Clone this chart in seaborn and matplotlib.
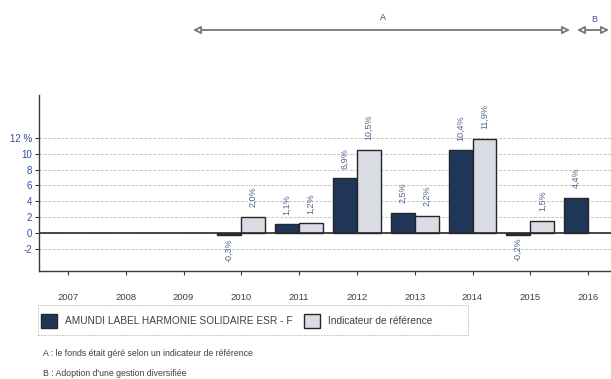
import matplotlib
matplotlib.use("Agg")
import matplotlib.pyplot as plt
import seaborn as sns
import pandas as pd
import numpy as np
from matplotlib.patches import Patch, FancyArrowPatch, Rectangle

years = ["2007", "2008", "2009", "2010", "2011", "2012", "2013", "2014", "2015", "2016"]
fund_name = "AMUNDI LABEL HARMONIE SOLIDAIRE ESR - F"
bench_name = "Indicateur de référence"
fund_years = ["2010", "2011", "2012", "2013", "2014", "2015", "2016"]
fund_values = [-0.3, 1.1, 6.9, 2.5, 10.4, -0.2, 4.4]
bench_years = ["2010", "2011", "2012", "2013", "2014", "2015"]
bench_values = [2.0, 1.2, 10.5, 2.2, 11.9, 1.5]
ytick_values = [-2, 0, 2, 4, 6, 8, 10, 12]
ytick_labels = ["-2", "0", "2", "4", "6", "8", "10", "12 %"]
note_a = "A : le fonds était géré selon un indicateur de référence"
note_b = "B : Adoption d'une gestion diversifiée"

df = pd.concat([
    pd.DataFrame({"year": fund_years, "value": fund_values, "serie": fund_name}),
    pd.DataFrame({"year": bench_years, "value": bench_values, "serie": bench_name}),
])

sns.set_theme(style="white")
plt.rcParams["font.family"] = ["Liberation Sans", "DejaVu Sans"]

fig = plt.figure(figsize=(6.11, 3.79), dpi=100)
ax = fig.add_axes([39 / 611, 108 / 379, (617 - 39) / 611, (271 - 95) / 379])

dark = "#1f3659"
light = "#d9dce3"
sns.barplot(data=df, x="year", y="value", hue="serie", order=years,
            hue_order=[fund_name, bench_name], palette=[dark, light],
            width=0.83, edgecolor="#262626", linewidth=1.0, ax=ax,
            legend=False, saturation=1)

ax.set_xlim(-0.5, 9.5)
ax.set_ylim(-4.8, 17.4)
ax.set_yticks(ytick_values)
ax.set_yticklabels(ytick_labels)
for v in ytick_values:
    ax.axhline(v, color="#c8c8c8", lw=0.7, ls=(0, (3, 1.5)), zorder=0)
ax.axhline(0, color="#2a2a2a", lw=1.2, zorder=1)

for s in ["top", "right"]:
    ax.spines[s].set_visible(False)
for s in ["left", "bottom"]:
    ax.spines[s].set_color("#3a3a3a")
    ax.spines[s].set_linewidth(1.0)

ax.tick_params(axis="x", direction="out", length=3, width=0.8, color="#3a3a3a",
               pad=13, labelsize=6.8, labelcolor="#404040", bottom=True)
ax.tick_params(axis="y", direction="out", length=3, width=0.8, color="#3a3a3a",
               pad=2, labelsize=7, labelcolor="#34509a", left=True)
ax.set_xlabel("")
ax.set_ylabel("")

lab_color = "#506590"
for cont in ax.containers:
    for bar in cont:
        h = bar.get_height()
        if np.isnan(h):
            continue
        xc = bar.get_x() + bar.get_width() / 2
        txt = f"{h:.1f}%".replace(".", ",")
        if h >= 0:
            ax.annotate(txt, (xc, h), xytext=(0, 7), textcoords="offset points",
                        rotation=90, ha="center", va="bottom", fontsize=6.5, color=lab_color)
        else:
            ax.annotate(txt, (xc, h), xytext=(0, -2), textcoords="offset points",
                        rotation=90, ha="center", va="top", fontsize=6.5, color=lab_color)

# Legend
handles = [Patch(facecolor=dark, edgecolor="#262626", lw=1.0),
           Patch(facecolor=light, edgecolor="#262626", lw=1.0)]
leg = fig.legend(handles, [fund_name, bench_name], ncol=2, loc="center left",
                 bbox_to_anchor=(41 / 611, 1 - 321 / 379), fontsize=7.3,
                 frameon=False, handlelength=1.6, handleheight=1.6,
                 columnspacing=1.1, handletextpad=0.8, borderpad=0,
                 borderaxespad=0)
for t in leg.get_texts():
    t.set_color("#404040")
fig.add_artist(Rectangle((38 / 611, 1 - 335 / 379), (468 - 38) / 611, 30 / 379,
                         transform=fig.transFigure, fill=False, edgecolor="#c8c8c8",
                         lw=0.7, ls=(0, (2, 1))))

fig.text(43 / 611, 1 - 353 / 379, note_a, fontsize=6.3, color="#404040", va="center")
fig.text(43 / 611, 1 - 373 / 379, note_b, fontsize=6.3, color="#404040", va="center")

# Period arrows
ya = 1 - 30 / 379
arrow_kw = dict(arrowstyle="<|-|>", color="#777777", lw=1.3, fc="white",
                mutation_scale=11, shrinkA=0, shrinkB=0)
fig.add_artist(FancyArrowPatch((193 / 611, ya), (570 / 611, ya),
                               transform=fig.transFigure, **arrow_kw))
fig.add_artist(FancyArrowPatch((577 / 611, ya), (609 / 611, ya),
                               transform=fig.transFigure, **arrow_kw))
fig.text(383 / 611, 1 - 17 / 379, "A", fontsize=6.5, color="#404040", ha="center", va="center")
fig.text(594 / 611, 1 - 19 / 379, "B", fontsize=6.5, color="#3c5a9a", ha="center", va="center")

fig.savefig("out.png", dpi=100, facecolor="white")
